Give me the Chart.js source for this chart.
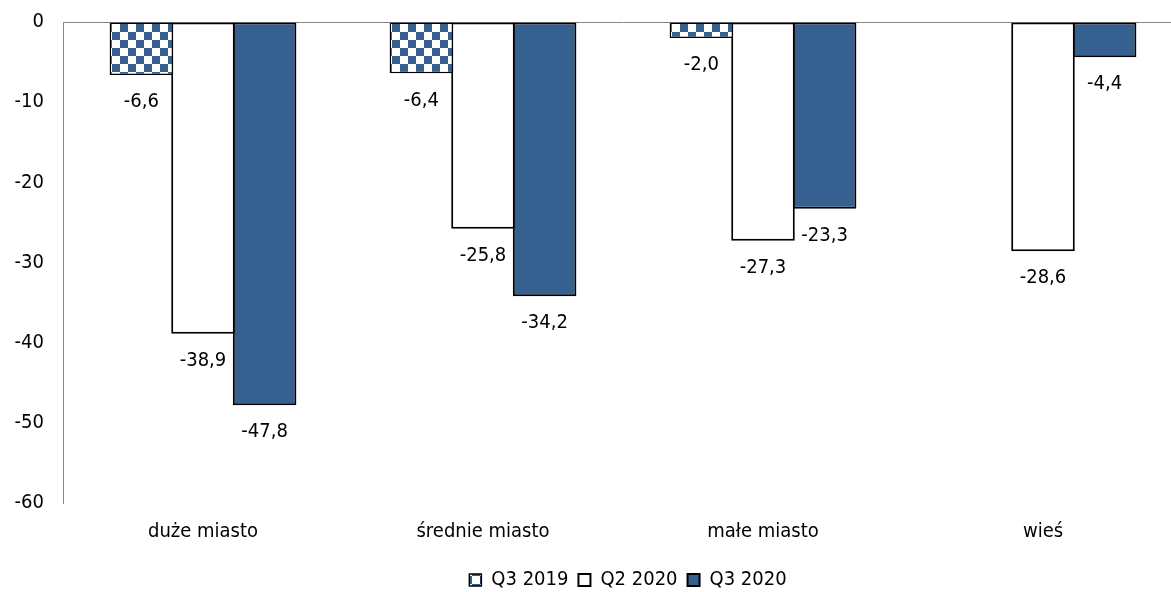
<!DOCTYPE html>
<html><head><meta charset="utf-8">
<script src="https://cdn.jsdelivr.net/npm/chart.js@4"></script>
<style>
html,body{margin:0;padding:0;overflow:hidden;background:#fff;}
#wrap{width:1183px;height:592px;position:relative;}
</style></head><body>
<div id="wrap"><canvas id="c"></canvas></div>
<script>
const categories = ['duże miasto', 'średnie miasto', 'małe miasto', 'wieś'];
const seriesNames = ['Q3 2019', 'Q2 2020', 'Q3 2020'];
const q3_2019 = [-6.6, -6.4, -2.0, null];
const q2_2020 = [-38.9, -25.8, -27.3, -28.6];
const q3_2020 = [-47.8, -34.2, -23.3, -4.4];
const yMin = -60, yMax = 0, yStep = 10;

const FONT = '"DejaVu Sans Condensed", "DejaVu Sans", sans-serif';
const BLUE = '#35608f';

function checker() {
  const c = document.createElement('canvas');
  c.width = 16; c.height = 16;
  const g = c.getContext('2d');
  g.fillStyle = '#fff'; g.fillRect(0, 0, 16, 16);
  g.fillStyle = BLUE; g.fillRect(0, 0, 8, 8); g.fillRect(8, 8, 8, 8);
  return g.createPattern(c, 'repeat');
}

Chart.defaults.font.family = FONT;
Chart.defaults.font.size = 20;
Chart.defaults.color = '#000';

const legendPos = {
  id: 'legendPos',
  afterLayout(chart) {
    const lg = chart.legend, ca = chart.chartArea;
    lg.left = ca.left + 5; lg.right = ca.right + 5; lg.width = ca.right - ca.left;
    const h = lg.height;
    lg.top = 580 - h / 2; lg.bottom = lg.top + h;
  }
};

const valueLabels = {
  id: 'valueLabels',
  afterDatasetsDraw(chart) {
    const ctx = chart.ctx;
    ctx.save();
    ctx.font = '20px ' + FONT;
    ctx.fillStyle = '#000';
    ctx.textAlign = 'center';
    ctx.textBaseline = 'middle';
    chart.data.datasets.forEach((ds, i) => {
      const meta = chart.getDatasetMeta(i);
      meta.data.forEach((el, j) => {
        const v = ds.data[j];
        if (v === null || v === undefined) return;
        ctx.fillText(v.toFixed(1).replace('.', ','), el.x, el.y + 27);
      });
    });
    ctx.restore();
  }
};

new Chart(document.getElementById('c'), {
  type: 'bar',
  data: {
    labels: categories,
    datasets: [
      { label: seriesNames[0], data: q3_2019, backgroundColor: checker(), borderColor: '#000', borderWidth: 1.5, borderSkipped: false },
      { label: seriesNames[1], data: q2_2020, backgroundColor: '#fff', borderColor: '#000', borderWidth: 2, borderSkipped: false },
      { label: seriesNames[2], data: q3_2020, backgroundColor: BLUE, borderColor: '#000', borderWidth: 2, borderSkipped: false }
    ]
  },
  options: {
    responsive: true,
    maintainAspectRatio: false,
    animation: false,
    datasets: { bar: { categoryPercentage: 0.66, barPercentage: 1.032 } },
    layout: { padding: { top: 22, left: 0, right: 0, bottom: 0 } },
    plugins: {
      tooltip: { enabled: false },
      legend: {
        position: 'bottom',
        labels: { boxWidth: 12, boxHeight: 12, padding: 10, font: { size: 20, family: FONT }, color: '#000' }
      }
    },
    scales: {
      x: {
        grid: { display: false },
        border: { display: false },
        ticks: { padding: 9, font: { size: 20 }, color: '#000' },
        afterFit(s) { s.height = 49; }
      },
      y: {
        min: yMin, max: yMax,
        grid: {
          drawTicks: false,
          color: ctx => (ctx.tick && ctx.tick.value === 0 ? '#868686' : 'rgba(0,0,0,0)'),
          lineWidth: 1
        },
        border: { display: true, color: '#868686', width: 1 },
        ticks: { stepSize: yStep, padding: 19, font: { size: 20 }, color: '#000', callback: v => String(v) },
        afterFit(s) { s.width = 63; s.paddingTop = 0; s.paddingBottom = 0; }
      }
    }
  },
  plugins: [legendPos, valueLabels]
});
</script>
</body></html>
